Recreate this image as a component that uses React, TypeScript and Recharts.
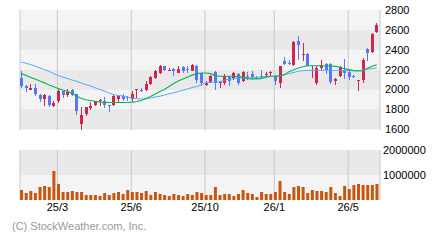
import React from 'react';
import { ComposedChart, Bar, Line, XAxis, YAxis, CartesianGrid } from 'recharts';

const opens = [2117,2040,2000,2013,1950,1907,1940,1833,1883,1983,1943,2000,1957,1653,1750,1813,1840,1880,1887,1840,1840,1900,1940,1927,1900,1993,1993,2000,2055,2117,2170,2233,2193,2205,2167,2227,2203,2190,2235,2165,2047,2073,2173,2067,2067,2127,2117,2160,2083,2140,2160,2127,2140,2153,2167,2140,2067,2290,2265,2250,2490,2353,2357,2183,2063,2220,2255,2260,2083,2133,2200,2177,2140,2083,2100,2410,2373,2583];
const highs = [2190,2045,2060,2060,1955,1960,1950,1887,2007,1990,2007,2007,1960,1820,1827,1870,1887,1907,1927,1845,1950,1950,1960,1930,1983,2007,2013,2083,2133,2200,2245,2240,2215,2215,2240,2240,2240,2255,2245,2170,2083,2150,2183,2083,2160,2133,2173,2167,2190,2173,2183,2140,2193,2173,2183,2150,2240,2323,2295,2490,2543,2470,2367,2233,2233,2300,2267,2270,2117,2233,2307,2200,2150,2093,2317,2417,2567,2667];
const lows = [2017,1973,1993,1940,1873,1833,1823,1827,1860,1913,1927,1933,1740,1593,1733,1793,1833,1833,1817,1773,1833,1867,1880,1883,1883,1917,1973,1983,2050,2110,2160,2183,2183,2135,2167,2167,2167,2183,2067,2040,2040,2067,2000,2017,2050,2040,2100,2050,2073,2100,2107,2107,2117,2117,2133,2050,2017,2243,2250,2240,2300,2290,2233,2117,2050,2200,2160,2060,2043,2123,2110,2100,2120,1983,2067,2283,2367,2567];
const closes = [2040,2013,2013,1960,1907,1950,1847,1860,1987,1943,1980,1950,1783,1740,1827,1833,1880,1893,1840,1830,1933,1933,1900,1913,1957,2003,1983,2060,2125,2183,2237,2200,2200,2190,2207,2183,2197,2247,2100,2067,2067,2140,2067,2073,2133,2090,2167,2070,2173,2133,2130,2120,2133,2160,2173,2083,2233,2253,2257,2483,2443,2360,2240,2200,2220,2250,2200,2080,2107,2223,2167,2123,2130,2093,2300,2367,2560,2650];
const volumes = [400000,280000,360000,280000,520000,560000,520000,1160000,640000,320000,320000,360000,320000,320000,200000,200000,200000,160000,280000,200000,280000,320000,240000,400000,320000,320000,280000,360000,200000,320000,240000,200000,160000,240000,200000,160000,240000,200000,320000,280000,200000,200000,520000,200000,240000,240000,160000,240000,400000,280000,240000,120000,320000,240000,240000,320000,760000,320000,240000,520000,560000,520000,280000,400000,360000,360000,320000,520000,280000,160000,560000,440000,600000,640000,600000,600000,600000,640000];
const maShort = [2160,2140,2120,2105,2085,2067,2045,2027,2010,1995,1983,1960,1935,1910,1897,1890,1883,1873,1870,1870,1870,1870,1870,1870,1873,1880,1890,1910,1930,1955,1980,2000,2030,2060,2085,2105,2125,2145,2160,2167,2167,2160,2140,2133,2133,2133,2133,2130,2125,2110,2107,2107,2110,2127,2133,2133,2137,2150,2180,2200,2217,2230,2240,2240,2240,2240,2240,2237,2233,2225,2210,2200,2190,2187,2190,2215,2235,2250];
const maLong = [2275,2265,2250,2235,2217,2200,2183,2160,2140,2125,2110,2095,2083,2065,2050,2035,2017,2000,1985,1965,1950,1940,1935,1923,1915,1907,1905,1907,1915,1925,1933,1945,1957,1967,1980,1993,2005,2020,2030,2050,2067,2073,2075,2080,2095,2105,2110,2115,2117,2117,2117,2120,2125,2127,2130,2133,2140,2150,2160,2172,2183,2190,2193,2193,2193,2193,2193,2193,2193,2193,2192,2190,2190,2190,2195,2205,2210,2217];
const tickIndex = [8, 24, 40, 55, 71];
const tickLabels = ['25/3', '25/6', '25/10', '26/1', '26/5'];
const priceTicks = [1600, 1800, 2000, 2200, 2400, 2600, 2800];
const volumeTicks = [0, 1000000, 2000000];

const RED = '#d4244c';
const BLUE = '#5a76f2';
const ORANGE = '#c8560f';
const LIGHT = '#f4f4f4';
const DARK = '#e9e9e9';
const GRID = '#c8c8c8';
const FONT = '"Liberation Sans", Arial, sans-serif';

const data = opens.map((o, i) => ({
  x: i + 0.3,
  open: o,
  high: highs[i],
  low: lows[i],
  close: closes[i],
  range: [lows[i], highs[i]],
  volume: volumes[i],
  ma1: maShort[i],
  ma2: maLong[i],
}));

const xTicks = tickIndex.map((i) => i + 0.1);
const xLabel = (v: number) => {
  const k = tickIndex.indexOf(Math.round(v - 0.1));
  return k >= 0 ? tickLabels[k] : '';
};

const Candle = (props: any) => {
  const { x, y, width, height, payload } = props;
  if (x == null || y == null) return null;
  const top = Math.min(y, y + height);
  const bottom = Math.max(y, y + height);
  const { open, close, high, low } = payload;
  const span = high - low || 1;
  const toY = (v: number) => top + ((high - v) / span) * (bottom - top);
  const up = close >= open;
  const color = up ? RED : BLUE;
  const bTop = toY(Math.max(open, close));
  const bBot = toY(Math.min(open, close));
  const cx = x + width / 2;
  return (
    <g shapeRendering="crispEdges">
      <rect x={cx - 0.5} y={top} width={1} height={Math.max(1, bottom - top)} fill={color} />
      <rect x={x} y={bTop} width={width} height={Math.max(1, bBot - bTop)} fill={color} />
    </g>
  );
};

export default function App() {
  const tickStyle = { fontSize: 11, fill: '#000', fontFamily: FONT };
  return (
    <div style={{ position: 'fixed', left: 0, top: 0, width: 440, height: 240, background: '#fff', fontFamily: FONT }}>
      <div style={{ position: 'absolute', left: 0, top: 0 }}>
        <ComposedChart width={440} height={140} data={data} margin={{ top: 10, right: 0, bottom: 10, left: 20 }}>
          <CartesianGrid vertical={false} stroke="none" horizontalFill={[LIGHT, DARK]} fillOpacity={1} />
          <CartesianGrid horizontal={false} stroke={GRID} />
          <XAxis dataKey="x" type="number" domain={[0, 78]} ticks={xTicks} hide />
          <YAxis
            orientation="right"
            width={60}
            domain={[1600, 2800]}
            ticks={priceTicks}
            axisLine={false}
            tickLine={false}
            tickSize={3}
            tickMargin={2}
            tick={{ ...tickStyle, textAnchor: 'start' }}
            interval={0}
          />
          <Bar dataKey="range" barSize={3} shape={<Candle />} isAnimationActive={false} />
          <Line dataKey="ma2" stroke="#55a8fa" strokeWidth={1} dot={false} isAnimationActive={false} />
          <Line dataKey="ma1" stroke="#00b850" strokeWidth={1.1} dot={false} isAnimationActive={false} />
        </ComposedChart>
      </div>
      <div style={{ position: 'absolute', left: 0, top: 140 }}>
        <ComposedChart width={440} height={80} data={data} margin={{ top: 10, right: 0, bottom: 0, left: 20 }}>
          <CartesianGrid vertical={false} stroke="none" horizontalFill={[DARK, LIGHT]} fillOpacity={1} />
          <CartesianGrid horizontal={false} stroke={GRID} />
          <XAxis
            dataKey="x"
            type="number"
            domain={[0, 78]}
            ticks={xTicks}
            tickFormatter={xLabel}
            height={20}
            axisLine={false}
            tickLine={false}
            tickSize={3}
            tickMargin={0}
            tick={tickStyle}
            interval={0}
          />
          <YAxis
            orientation="right"
            width={60}
            domain={[0, 2000000]}
            ticks={volumeTicks}
            tickFormatter={(v: number) => (v === 0 ? '' : String(v))}
            axisLine={false}
            tickLine={false}
            tickSize={3}
            tickMargin={0}
            tick={{ ...tickStyle, textAnchor: 'start' }}
            interval={0}
          />
          <Bar dataKey="volume" barSize={3} fill={ORANGE} isAnimationActive={false} />
        </ComposedChart>
      </div>
      <div style={{ position: 'absolute', left: 12, top: 220, fontSize: 11, color: '#9a9a9a', whiteSpace: 'nowrap' }}>
        (C) StockWeather.com, Inc.
      </div>
    </div>
  );
}
